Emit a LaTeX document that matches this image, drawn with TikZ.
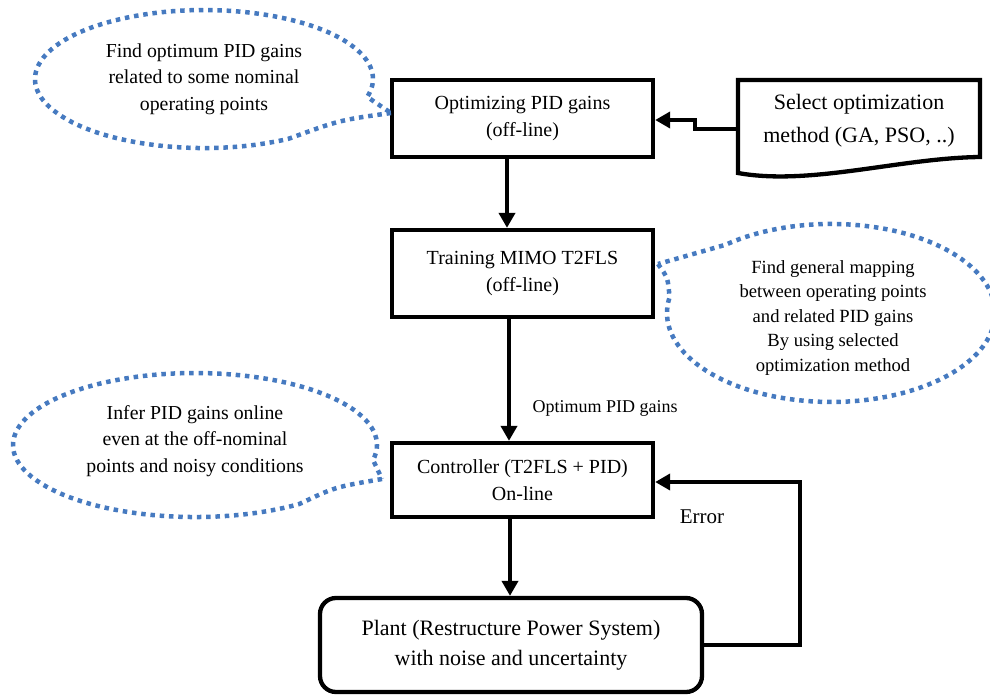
\documentclass[tikz,border=0pt]{standalone}
\usepackage{fontspec}
\setmainfont{Liberation Serif}
\usetikzlibrary{arrows.meta}
\definecolor{callblue}{RGB}{70,122,192}
\begin{document}
\begin{tikzpicture}[x=1pt,y=-1pt,
  boxnode/.style={draw, line width=4.3pt, minimum width=261pt, minimum height=77pt, align=center, inner sep=0pt, font=\fontsize{20}{27}\selectfont},
  arr/.style={line width=4.3pt, -{Triangle[width=16pt,length=15pt]}},
  callout/.style={draw=callblue, line width=4.5pt, dash pattern=on 4.5pt off 4.8pt},
  calltext/.style={align=center, inner sep=0pt, font=\fontsize{19.8}{26.5}\selectfont}]
\useasboundingbox (0,0) rectangle (990,695);

% boxes
\node[boxnode] (opt) at (522.5,118.5) {Optimizing PID gains\\(off-line)};
\node[boxnode, minimum height=87pt] (train) at (522.5,273.5) {Training MIMO T2FLS\\(off-line)};
\node[boxnode, minimum height=74pt] (ctrl) at (522.5,480) {Controller (T2FLS + PID)\\On-line};
\node[draw, line width=4.3pt, rounded corners=16pt, minimum width=382pt, minimum height=94pt, align=center, inner sep=0pt, font=\fontsize{22}{30}\selectfont] (plant) at (511,645) {Plant (Restructure Power System)\\with noise and uncertainty};

% document shape
\node[align=center, inner sep=0pt, minimum width=242pt, minimum height=94pt, font=\fontsize{22}{33}\selectfont] (doc) at (859,121) {Select optimization\\method (GA, PSO, ..)};
\draw[line width=4.3pt] (738,80) -- (980,80) -- (980,157) .. controls (900,158) and (810,186) .. (738,173) -- cycle;

% connectors
\draw[arr] (doc.west |- 0,129) -- (695,129) -- (695,120) -- (opt.east |- 0,120);
\draw[arr] (opt.south -| 507,0) -- (train.north -| 507,0);
\draw[arr] (train.south -| 509,0) -- (ctrl.north -| 509,0);
\draw[arr] (ctrl.south -| 510,0) -- (plant.north -| 510,0);
\draw[arr] (plant.east |- 0,645) -- (800,645) -- (800,482) -- (ctrl.east |- 0,482);

\node[inner sep=0pt, font=\fontsize{18}{20}\selectfont] (lbl) at (605,408) {Optimum PID gains};
\node[inner sep=0pt, font=\fontsize{21}{24}\selectfont] (err) at (702,517) {Error};

% callout 1
\draw[callout] (391,113) .. controls (340,120) .. (288.5,138.8) arc[start angle=-60, end angle=-375, x radius=169pt, y radius=69pt] -- cycle;
\node[calltext] (c1) at (204,79) {Find optimum PID gains\\related to some nominal\\operating points};

% callout 2
\draw[callout] (658,264) .. controls (668,278) .. (669.5,297.5) arc[start angle=-190, end angle=130, x radius=164pt, y radius=89pt] -- cycle;
\node[align=center, inner sep=0pt, font=\fontsize{18.6}{24.5}\selectfont] (c2) at (833,318) {Find general mapping\\between operating points\\and related PID gains\\By using selected\\optimization method};

% callout 3
\draw[callout] (382,479) .. controls (335,487) .. (299.4,504) arc[start angle=-55, end angle=-372, x radius=182pt, y radius=72pt] -- cycle;
\node[calltext] (c3) at (195,441) {Infer PID gains online\\even at the off-nominal\\points and noisy conditions};
\end{tikzpicture}
\end{document}
